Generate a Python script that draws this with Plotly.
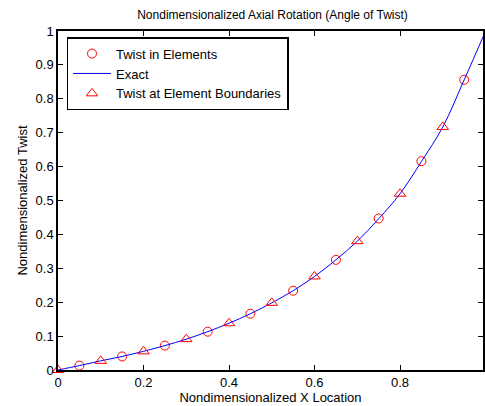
import plotly.graph_objects as go

# Data
x_exact = [0, 0.05, 0.1, 0.15, 0.2, 0.25, 0.3, 0.35, 0.4, 0.45, 0.5,
           0.55, 0.6, 0.65, 0.7, 0.75, 0.8, 0.85, 0.9, 0.95, 1.0]
y_exact = [0, 0.013, 0.027, 0.040, 0.055, 0.072, 0.091, 0.113, 0.138, 0.166, 0.198,
           0.234, 0.276, 0.325, 0.380, 0.446, 0.520, 0.615, 0.717, 0.856, 1.0]

x_elem = [0.05, 0.15, 0.25, 0.35, 0.45, 0.55, 0.65, 0.75, 0.85, 0.95]
y_elem = [0.013, 0.040, 0.072, 0.113, 0.166, 0.234, 0.325, 0.447, 0.616, 0.856]

x_bound = [0, 0.1, 0.2, 0.3, 0.4, 0.5, 0.6, 0.7, 0.8, 0.9, 1.0]
y_bound = [0, 0.027, 0.055, 0.091, 0.138, 0.198, 0.276, 0.380, 0.520, 0.717, 1.0]

x_ticks = [0, 0.2, 0.4, 0.6, 0.8]
x_ticklabels = ["0", "0.2", "0.4", "0.6", "0.8"]
y_ticks = [0, 0.1, 0.2, 0.3, 0.4, 0.5, 0.6, 0.7, 0.8, 0.9, 1.0]
y_ticklabels = ["0", "0.1", "0.2", "0.3", "0.4", "0.5", "0.6", "0.7", "0.8", "0.9", "1"]

FONT = "Liberation Sans, Arial, sans-serif"

fig = go.Figure()
fig.add_trace(go.Scatter(
    x=x_elem, y=y_elem, mode="markers", name="Twist in Elements",
    marker=dict(symbol="circle-open", size=9, color="red", line=dict(width=1, color="red")),
    cliponaxis=False,
))
fig.add_trace(go.Scatter(
    x=x_exact, y=y_exact, mode="lines", name="Exact",
    line=dict(color="blue", width=1, shape="spline"),
))
fig.add_trace(go.Scatter(
    x=x_bound, y=y_bound, mode="markers", name="Twist at Element Boundaries",
    marker=dict(symbol="triangle-up-open", size=10, color="red", line=dict(width=1, color="red")),
    cliponaxis=False,
))

fig.update_layout(
    width=485, height=406,
    margin=dict(l=58, r=0, t=31, b=36),
    paper_bgcolor="white", plot_bgcolor="white",
    font=dict(family=FONT, size=13, color="black"),
    title=dict(text="Nondimensionalized Axial Rotation (Angle of Twist)",
               x=(58 + 487) / 2 / 485, xanchor="center", y=1 - 15 / 406, yanchor="middle",
               font=dict(size=12, family=FONT, color="black")),
    showlegend=True,
    legend=dict(x=0.02, y=0.982, xanchor="left", yanchor="top",
                bgcolor="white", bordercolor="black", borderwidth=1.5,
                font=dict(size=13, family=FONT, color="black"),
                tracegroupgap=0, itemwidth=38),
)
fig.update_xaxes(
    range=[0, 0.994], tickvals=x_ticks, ticktext=x_ticklabels,
    ticks="inside", ticklen=5, tickcolor="black", tickwidth=1,
    showline=True, linecolor="black", linewidth=1.5, mirror="ticks",
    showgrid=False, zeroline=False,
    title=dict(text="Nondimensionalized X Location", standoff=1, font=dict(size=13)),
    tickfont=dict(size=13),
)
fig.update_yaxes(
    range=[0, 1], tickvals=y_ticks, ticktext=y_ticklabels,
    ticks="inside", ticklen=5, tickcolor="black", tickwidth=1,
    showline=True, linecolor="black", linewidth=1.5, mirror="ticks",
    showgrid=False, zeroline=False,
    title=dict(text="Nondimensionalized Twist", standoff=5, font=dict(size=13)),
    tickfont=dict(size=13),
)

fig.write_html("out.html")
